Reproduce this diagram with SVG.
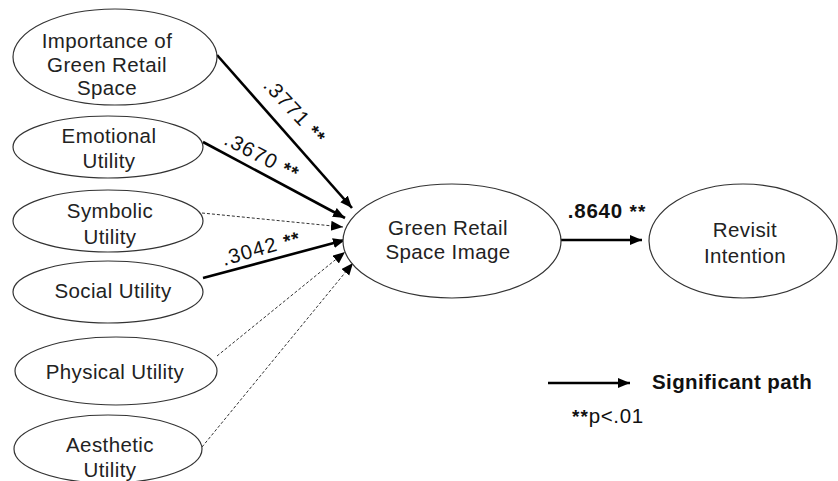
<svg xmlns="http://www.w3.org/2000/svg" width="838" height="481" viewBox="0 0 838 481">
<style>
.node ellipse{fill:#fff;stroke:#333;stroke-width:1.2}
.t{font-family:"Liberation Sans",Arial,sans-serif;font-size:20.5px;fill:#222;text-anchor:middle;letter-spacing:0.4px}
.sig{stroke:#000;stroke-width:2.6;fill:none;marker-end:url(#ah)}
.ns{stroke:#333;stroke-width:1;stroke-dasharray:3 2;fill:none;marker-end:url(#ah)}
.lbl{font-family:"Liberation Sans",Arial,sans-serif;font-size:20.5px;fill:#111;text-anchor:middle;letter-spacing:1.2px}
.ast{font-size:19px;font-weight:bold;letter-spacing:1px}
.bold{font-weight:bold}
</style>
<defs>
<marker id="ah" markerUnits="userSpaceOnUse" markerWidth="13" markerHeight="11" refX="12" refY="5" orient="auto">
<path d="M0,0 L12,5 L0,10 Z" fill="#000"/>
</marker>
</defs>
<rect width="838" height="481" fill="#fff"/>
<g id="connectors">
<line class="sig" x1="217" y1="55" x2="352" y2="208"/>
<line class="sig" x1="203" y1="142" x2="345" y2="218"/>
<line class="ns" x1="202" y1="213" x2="343" y2="227"/>
<line class="sig" x1="203" y1="278" x2="345" y2="240"/>
<line class="ns" x1="217" y1="356" x2="345" y2="252"/>
<line class="ns" x1="202" y1="447" x2="353" y2="263"/>
<line class="sig" x1="561" y1="240" x2="642" y2="240"/>
<text class="lbl" transform="translate(295,111) rotate(47)" y="7">.3771 <tspan class="ast">**</tspan></text>
<text class="lbl" transform="translate(262,156) rotate(27)" y="7">.3670 <tspan class="ast">**</tspan></text>
<text class="lbl" transform="translate(261,248) rotate(-16)" y="7">.3042 <tspan class="ast">**</tspan></text>
<text class="lbl bold" x="607" y="218" style="letter-spacing:0.8px">.8640 <tspan class="ast">**</tspan></text>
</g>
<g id="n-importance" class="node">
<ellipse cx="115" cy="57" rx="102" ry="48"/>
<text class="t" x="107" y="48">Importance  of</text>
<text class="t" x="107" y="72">Green Retail</text>
<text class="t" x="107" y="95">Space</text>
</g>
<g id="n-emotional" class="node">
<ellipse cx="108" cy="147" rx="95" ry="31"/>
<text class="t" x="109" y="143">Emotional</text>
<text class="t" x="109" y="168">Utility</text>
</g>
<g id="n-symbolic" class="node">
<ellipse cx="108" cy="221" rx="95" ry="31"/>
<text class="t" x="110" y="218">Symbolic</text>
<text class="t" x="110" y="244">Utility</text>
</g>
<g id="n-social" class="node">
<ellipse cx="108" cy="292" rx="95" ry="31"/>
<text class="t" x="113" y="298">Social Utility</text>
</g>
<g id="n-physical" class="node">
<ellipse cx="116" cy="371" rx="101" ry="34"/>
<text class="t" x="115" y="379">Physical Utility</text>
</g>
<g id="n-aesthetic" class="node">
<ellipse cx="108" cy="449" rx="94" ry="34"/>
<text class="t" x="110" y="452">Aesthetic</text>
<text class="t" x="110" y="477">Utility</text>
</g>
<g id="n-image" class="node">
<ellipse cx="452" cy="241" rx="109" ry="57"/>
<text class="t" x="448" y="235">Green Retail</text>
<text class="t" x="448" y="259">Space Image</text>
</g>
<g id="n-revisit" class="node">
<ellipse cx="743" cy="241" rx="94" ry="57"/>
<text class="t" x="745" y="237">Revisit</text>
<text class="t" x="745" y="263">Intention</text>
</g>
<g id="legend">
<line class="sig" x1="548" y1="383" x2="630" y2="383"/>
<text class="lbl bold" x="652" y="389" style="text-anchor:start;letter-spacing:0.4px">Significant path</text>
<text class="lbl" x="572" y="423" style="text-anchor:start;letter-spacing:0.6px"><tspan class="ast">**</tspan>p&lt;.01</text>
</g>
</svg>
